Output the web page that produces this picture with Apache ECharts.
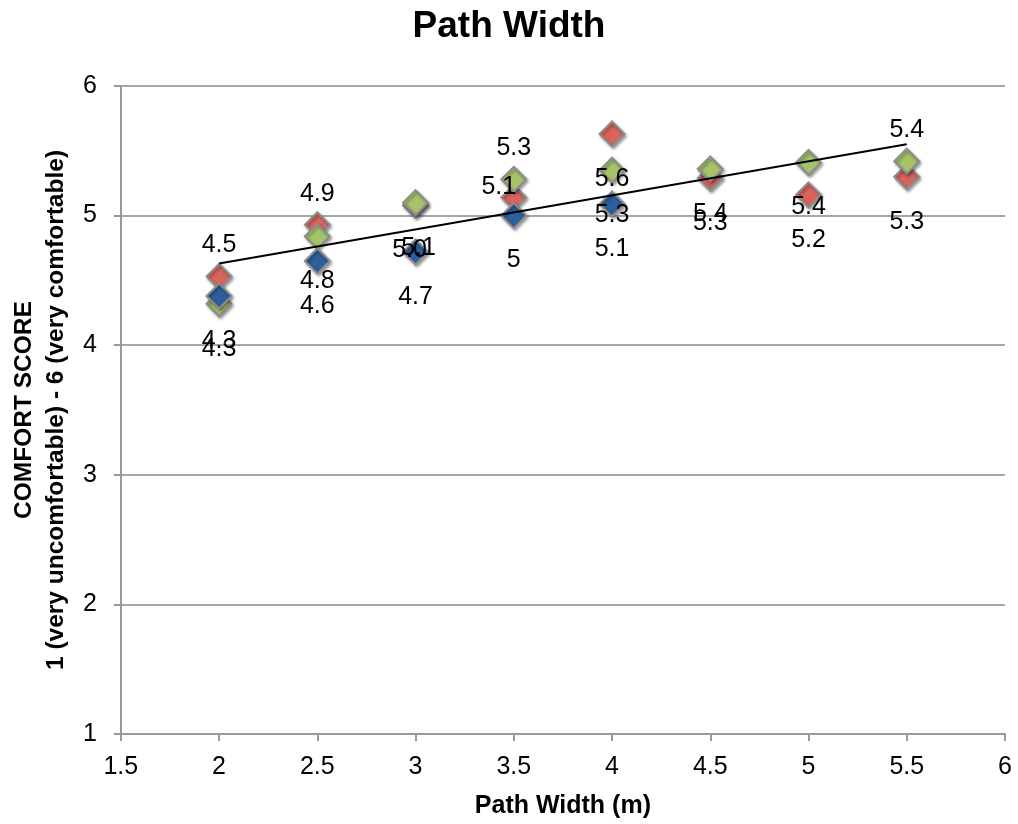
<!DOCTYPE html>
<html>
<head>
<meta charset="utf-8">
<script src="https://cdn.jsdelivr.net/npm/echarts@6/dist/echarts.min.js"></script>
<style>html,body{margin:0;padding:0;background:#fff}#c{width:1018px;height:824px}</style>
</head>
<body>
<div id="c"></div>
<script>
// ---- data ----
const redX = [2, 2.5, 3, 3.5, 4, 4.5, 5, 5.5];
const redY = [4.53, 4.93, 5.08, 5.14, 5.63, 5.29, 5.16, 5.30];
const redLabels = ['4.5', '4.9', '5.0', '5.1', '5.6', '5.3', '5.2', '5.3'];

const greenX = [2, 2.5, 3, 3.5, 4, 4.5, 5, 5.5];
const greenY = [4.32, 4.84, 5.10, 5.28, 5.35, 5.36, 5.41, 5.42];
const greenLabels = ['4.3', '4.8', '5.1', '5.3', '5.3', '5.4', '5.4', '5.4'];

const blueX = [2, 2.5, 3, 3.5, 4];
const blueY = [4.38, 4.65, 4.72, 5.00, 5.09];
const blueLabels = ['4.3', '4.6', '4.7', '5', '5.1'];

const trendX = [2, 5.5];
const trendY = [4.63, 5.55];

const xTicks = [1.5, 2, 2.5, 3, 3.5, 4, 4.5, 5, 5.5, 6];
const yTicks = [1, 2, 3, 4, 5, 6];

// ---- label placement (styling) ----
const BELOW = [0, 45], ABOVE = [0, -31];
const labelOffsets = {
  red: {0: ABOVE, 1: ABOVE, 2: [-6, 45], 3: [-15, -10]},
  green: {2: [3, 45], 3: ABOVE, 7: ABOVE},
  blue: {}
};

const FONT = 'Liberation Sans, Arial, sans-serif';

function buildSeries(name, xs, ys, labels, color) {
  return {
    name: name,
    type: 'scatter',
    symbol: 'diamond',
    symbolSize: 25,
    itemStyle: {
      color: color,
      opacity: 1,
      borderColor: '#8c8c8c',
      borderWidth: 2,
      shadowBlur: 3,
      shadowColor: 'rgba(0,0,0,0.35)',
      shadowOffsetX: 1.5,
      shadowOffsetY: 2
    },
    label: {show: false},
    data: xs.map((x, i) => ({value: [x, ys[i]]})),
    z: 3
  };
}

function buildLabels(name, xs, ys, labels) {
  return {
    name: name + '-labels',
    type: 'scatter',
    symbolSize: 0,
    silent: true,
    z: 10,
    itemStyle: {opacity: 1},
    data: xs.map((x, i) => ({
      value: [x, ys[i]],
      label: {
        show: true,
        position: 'inside',
        offset: labelOffsets[name][i] || BELOW,
        formatter: labels[i],
        color: '#000',
        opacity: 1,
        textBorderWidth: 0,
        fontSize: 25,
        fontFamily: FONT
      }
    }))
  };
}

const chart = echarts.init(document.getElementById('c'), null, {renderer: 'canvas'});
chart.setOption({
  animation: false,
  backgroundColor: '#fff',
  title: {
    text: 'Path Width',
    left: 'center',
    top: 3,
    textStyle: {fontSize: 37, fontWeight: 'bold', color: '#000', fontFamily: FONT}
  },
  grid: {left: 118, right: 13, top: 86, bottom: 86, containLabel: false},
  xAxis: {
    type: 'value',
    min: xTicks[0],
    max: xTicks[xTicks.length - 1],
    interval: 0.5,
    name: 'Path Width (m)',
    nameLocation: 'middle',
    nameGap: 60,
    nameTextStyle: {fontSize: 25, fontWeight: 'bold', color: '#000', fontFamily: FONT},
    axisLine: {show: true, onZero: false, lineStyle: {color: '#9a9a9a', width: 2}},
    axisTick: {show: true, length: 7, lineStyle: {color: '#9a9a9a', width: 2}},
    axisLabel: {fontSize: 25, color: '#000', fontFamily: FONT, margin: 21,
      formatter: v => String(v)},
    splitLine: {show: false}
  },
  yAxis: {
    type: 'value',
    min: yTicks[0],
    max: yTicks[yTicks.length - 1],
    interval: 1,
    name: 'COMFORT SCORE\n1 (very uncomfortable) - 6 (very comfortable)',
    nameLocation: 'middle',
    nameRotate: 90,
    nameGap: 46,
    nameTextStyle: {fontSize: 24.5, fontWeight: 'bold', color: '#000', fontFamily: FONT, lineHeight: 32},
    axisLine: {show: true, lineStyle: {color: '#9a9a9a', width: 2}},
    axisTick: {show: true, length: 7, lineStyle: {color: '#9a9a9a', width: 2}},
    axisLabel: {fontSize: 25, color: '#000', fontFamily: FONT, margin: 24},
    splitLine: {show: true, lineStyle: {color: '#a6a6a6', width: 2}}
  },
  series: [
    buildSeries('red', redX, redY, redLabels, '#d9645b'),
    buildSeries('green', greenX, greenY, greenLabels, '#a5c46a'),
    buildSeries('blue', blueX, blueY, blueLabels, '#2c5f9b'),
    {
      name: 'trend',
      type: 'line',
      symbol: 'none',
      z: 5,
      lineStyle: {color: '#000', width: 2},
      data: trendX.map((x, i) => [x, trendY[i]])
    },
    buildLabels('red', redX, redY, redLabels),
    buildLabels('green', greenX, greenY, greenLabels),
    buildLabels('blue', blueX, blueY, blueLabels)
  ]
});
</script>
</body>
</html>
